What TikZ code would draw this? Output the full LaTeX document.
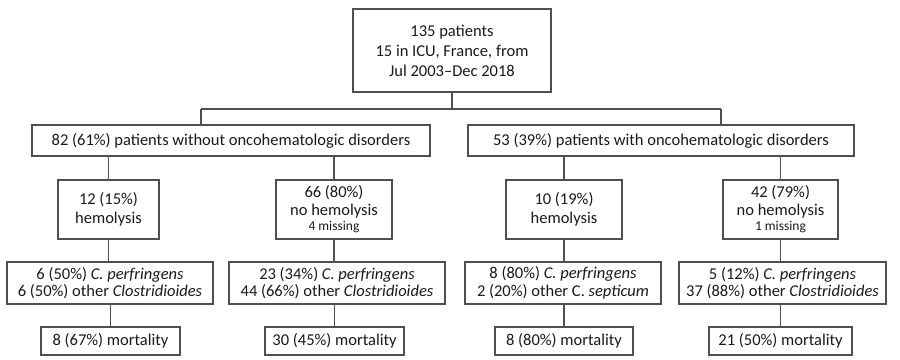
\documentclass[tikz,border=0pt]{standalone}
\usepackage{fontspec}
\setmainfont{Carlito}
\definecolor{ln}{HTML}{505050}
\definecolor{tx}{HTML}{1A1A1A}
\begin{document}
\begin{tikzpicture}[x=1pt,y=-1pt,
  box/.style={draw=ln,line width=1.4pt,fill=white,text=tx,inner sep=0pt,align=center,
    font=\fontsize{16.5}{19}\selectfont},
  conn/.style={draw=ln,line width=1.4pt}]
\useasboundingbox (0,0) rectangle (900,359);
\newcommand{\sm}{\fontsize{13.5}{14}\selectfont}
\node[box,minimum width=198pt,minimum height=83pt,font=\fontsize{16.5}{20}\selectfont] (top) at (452,50.5)
  {135 patients\\15 in ICU, France, from\\Jul 2003--Dec 2018};
\node[box,minimum width=398pt,minimum height=31pt] (A) at (231,140.5)
  {82 (61\%) patients without oncohematologic disorders};
\node[box,minimum width=386pt,minimum height=31pt] (B) at (661,140.5)
  {53 (39\%) patients with oncohematologic disorders};
\node[box,minimum width=101pt,minimum height=59pt] (A1) at (108.5,209.5)
  {12 (15\%)\\hemolysis};
\node[box,minimum width=116pt,minimum height=59pt,font=\fontsize{16.5}{17.5}\selectfont] (A2) at (334,209.5)
  {66 (80\%)\\no hemolysis\\[-2pt]{\sm 4 missing}};
\node[box,minimum width=116pt,minimum height=59pt] (B1) at (564,209.5)
  {10 (19\%)\\hemolysis};
\node[box,minimum width=115pt,minimum height=59pt,font=\fontsize{16.5}{17.5}\selectfont] (B2) at (780.5,209.5)
  {42 (79\%)\\no hemolysis\\[-2pt]{\sm 1 missing}};
\node[box,minimum width=206pt,minimum height=42pt,font=\fontsize{16.5}{17.5}\selectfont] (A1c) at (110,283)
  {6 (50\%) \textit{C. perfringens}\\6 (50\%) other \textit{Clostridioides}};
\node[box,minimum width=216pt,minimum height=42pt,font=\fontsize{16.5}{17.5}\selectfont] (A2c) at (337,283)
  {23 (34\%) \textit{C. perfringens}\\44 (66\%) other \textit{Clostridioides}};
\node[box,minimum width=196pt,minimum height=42pt,font=\fontsize{16.5}{17.5}\selectfont] (B1c) at (563,283)
  {8 (80\%) \textit{C. perfringens}\\2 (20\%) other C. \textit{septicum}};
\node[box,minimum width=207pt,minimum height=42pt,font=\fontsize{16.5}{17.5}\selectfont] (B2c) at (782.5,283)
  {5 (12\%) \textit{C. perfringens}\\37 (88\%) other \textit{Clostridioides}};
\node[box,minimum width=139pt,minimum height=28pt] (A1m) at (110.5,341) {8 (67\%) mortality};
\node[box,minimum width=139pt,minimum height=28pt] (A2m) at (334.5,341) {30 (45\%) mortality};
\node[box,minimum width=138pt,minimum height=28pt] (B1m) at (564,341) {8 (80\%) mortality};
\node[box,minimum width=143pt,minimum height=28pt] (B2m) at (780.5,341) {21 (50\%) mortality};
\coordinate (j) at (452,109);
\coordinate (jl) at (201,109);
\coordinate (jr) at (721,109);
\draw[conn] (top.south) -- (j);
\draw[conn] (jl) -- (jr);
\draw[conn] (jl) -- (jl |- A.north);
\draw[conn] (jr) -- (jr |- B.north);
\draw[conn] (A1.north) -- (A1.north |- A.south);
\draw[conn] (A2.north) -- (A2.north |- A.south);
\draw[conn] (B1.north) -- (B1.north |- B.south);
\draw[conn] (B2.north) -- (B2.north |- B.south);
\draw[conn] (A1.south) -- (A1.south |- A1c.north);
\draw[conn] (A2.south) -- (A2.south |- A2c.north);
\draw[conn] (B1.south) -- (B1.south |- B1c.north);
\draw[conn] (B2.south) -- (B2.south |- B2c.north);
\draw[conn] (A1m.north) -- (A1m.north |- A1c.south);
\draw[conn] (A2m.north) -- (A2m.north |- A2c.south);
\draw[conn] (B1m.north) -- (B1m.north |- B1c.south);
\draw[conn] (B2m.north) -- (B2m.north |- B2c.south);
\end{tikzpicture}
\end{document}
